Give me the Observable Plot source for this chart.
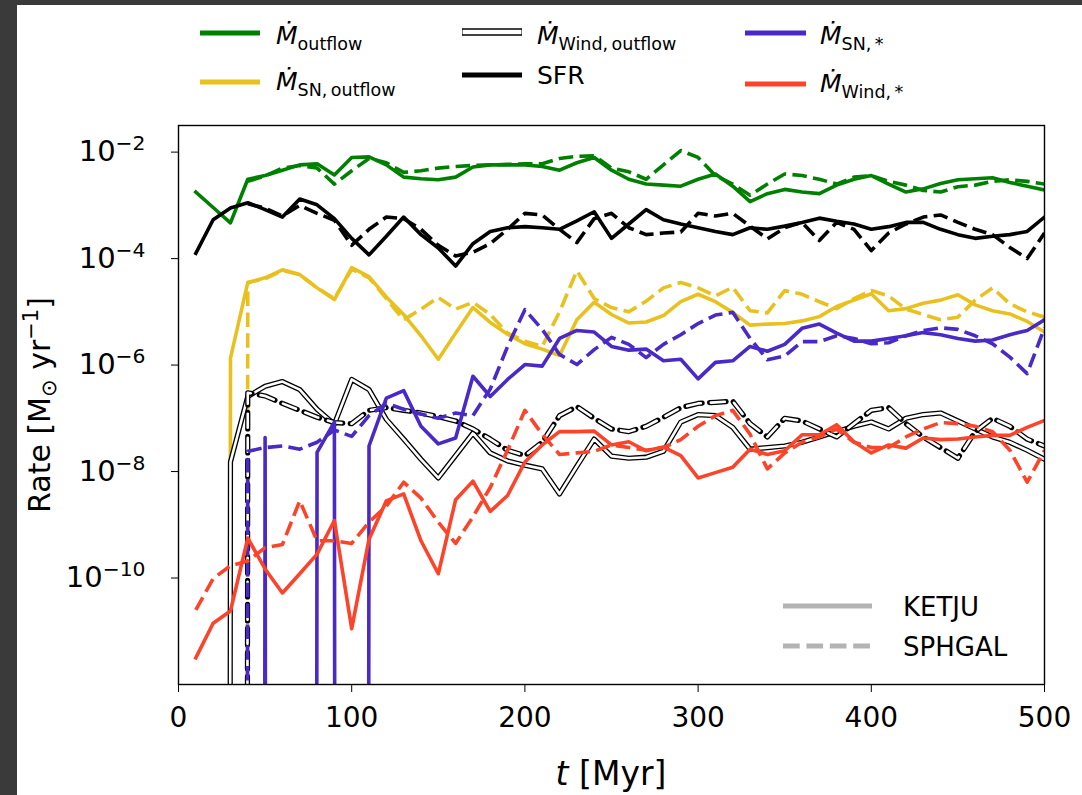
<!DOCTYPE html>
<html><head><meta charset="utf-8">
<script src="https://cdn.jsdelivr.net/npm/d3@7"></script>
<script src="https://cdn.jsdelivr.net/npm/@observablehq/plot@0.6"></script>
<style>
html,body{margin:0;padding:0;background:#3a3a3a;width:1082px;height:795px;overflow:hidden;font-family:"DejaVu Sans",sans-serif;}
#panel{position:absolute;left:17px;top:5px;width:1065px;height:790px;background:#fff;}
#chart{position:absolute;left:0;top:0;}
#overlay{position:absolute;left:0;top:0;}
</style></head><body>
<div id="panel"></div>
<div id="chart"></div>
<svg id="overlay" width="1082" height="795"></svg>
<script>
// time axis (Myr)
const times = [10,20,30,40,50,60,70,80,90,100,110,120,130,140,150,160,170,180,190,200,210,220,230,240,250,260,270,280,290,300,310,320,330,340,350,360,370,380,390,400,410,420,430,440,450,460,470,480,490,500];
const Z = -Infinity; // log10 of a zero rate
const N = null;      // no data
// log10 of rates [Msun/yr]
const outflowKetjuLog = [-2.75,-3.04,-3.33,-2.51,-2.44,-2.34,-2.24,-2.22,-2.43,-2.10,-2.09,-2.24,-2.47,-2.50,-2.52,-2.47,-2.28,-2.24,-2.24,-2.24,-2.27,-2.34,-2.20,-2.10,-2.34,-2.51,-2.60,-2.62,-2.64,-2.51,-2.41,-2.64,-2.93,-2.78,-2.70,-2.75,-2.78,-2.62,-2.51,-2.44,-2.60,-2.75,-2.69,-2.59,-2.52,-2.50,-2.48,-2.57,-2.64,-2.71];
const outflowSphgalLog = [N,N,N,-2.55,-2.45,-2.30,-2.25,-2.30,-2.60,-2.35,-2.12,-2.20,-2.38,-2.35,-2.30,-2.27,-2.25,-2.24,-2.23,-2.22,-2.22,-2.12,-2.08,-2.07,-2.30,-2.37,-2.51,-2.24,-1.97,-2.10,-2.44,-2.60,-2.81,-2.60,-2.41,-2.44,-2.51,-2.60,-2.47,-2.44,-2.55,-2.62,-2.72,-2.75,-2.65,-2.62,-2.55,-2.52,-2.55,-2.60];
const sfrKetjuLog = [-3.90,-3.27,-3.05,-2.95,-3.08,-3.22,-2.88,-2.99,-3.25,-3.62,-3.93,-3.58,-3.22,-3.55,-3.80,-4.14,-3.72,-3.49,-3.42,-3.40,-3.42,-3.45,-3.29,-3.12,-3.62,-3.35,-3.08,-3.27,-3.35,-3.42,-3.49,-3.55,-3.42,-3.45,-3.39,-3.32,-3.24,-3.30,-3.35,-3.45,-3.40,-3.32,-3.32,-3.45,-3.55,-3.62,-3.58,-3.55,-3.49,-3.22];
const sfrSphgalLog = [N,N,N,-2.97,-3.05,-3.20,-3.00,-3.15,-3.28,-3.75,-3.45,-3.22,-3.25,-3.45,-3.75,-3.95,-3.88,-3.72,-3.45,-3.15,-3.18,-3.45,-3.70,-3.25,-3.15,-3.42,-3.55,-3.52,-3.50,-3.15,-3.20,-3.15,-3.39,-3.63,-3.42,-3.32,-3.66,-3.32,-3.45,-3.85,-3.52,-3.35,-3.22,-3.18,-3.32,-3.45,-3.55,-3.79,-4.00,-3.52];
const snOutKetjuLog = [Z,Z,-5.87,-4.45,-4.36,-4.21,-4.30,-4.55,-4.77,-4.17,-4.34,-4.72,-5.05,-5.45,-5.89,-5.40,-4.92,-5.20,-5.42,-5.60,-5.70,-5.82,-5.15,-4.82,-5.05,-5.21,-5.19,-5.07,-4.81,-4.67,-4.81,-5.01,-5.25,-5.23,-5.22,-5.17,-5.09,-4.90,-4.78,-4.66,-4.98,-4.94,-4.84,-4.78,-4.68,-4.87,-4.98,-5.04,-5.18,-5.38];
const snOutSphgalLog = [Z,Z,Z,-4.45,-4.38,-4.22,-4.30,-4.55,-4.75,-4.20,-4.36,-4.75,-5.15,-4.95,-4.73,-4.95,-4.82,-5.05,-5.40,-5.55,-5.65,-5.00,-4.23,-4.75,-4.92,-5.00,-4.80,-4.55,-4.45,-4.55,-4.70,-4.54,-4.98,-5.02,-4.60,-4.67,-4.81,-4.94,-4.75,-4.60,-4.70,-4.95,-5.05,-5.15,-5.10,-4.78,-4.55,-4.85,-5.00,-5.10];
const windOutKetjuLog = [Z,Z,-7.82,-6.59,-6.40,-6.31,-6.46,-6.83,-7.11,-6.27,-6.46,-7.02,-7.39,-7.77,-8.12,-7.70,-7.28,-7.65,-7.80,-7.88,-7.95,-8.42,-7.90,-7.39,-7.71,-7.75,-7.73,-7.62,-7.07,-6.93,-6.95,-7.17,-7.58,-7.55,-7.52,-7.45,-7.35,-7.25,-7.15,-7.07,-7.20,-7.00,-6.93,-6.90,-7.05,-7.20,-7.35,-7.45,-7.60,-7.77];
const windOutSphgalLog = [Z,Z,Z,-6.52,-6.58,-6.72,-6.85,-6.98,-7.08,-7.10,-6.85,-6.80,-6.85,-6.90,-6.97,-7.05,-7.20,-7.39,-7.60,-7.70,-7.45,-6.95,-6.78,-7.00,-7.20,-7.25,-7.15,-6.98,-6.80,-6.72,-6.70,-6.68,-7.10,-7.35,-7.00,-7.05,-7.20,-7.35,-7.10,-6.85,-6.80,-7.10,-7.35,-7.55,-7.75,-7.25,-7.00,-7.15,-7.39,-7.52];
const snStarKetjuLog = [Z,Z,Z,Z,-7.36,Z,Z,-7.64,-7.07,Z,-7.52,-6.62,-6.48,-7.15,-7.48,-7.37,-6.21,-6.59,-6.27,-5.99,-6.02,-5.50,-5.35,-5.38,-5.65,-5.72,-5.70,-5.92,-5.89,-6.26,-5.95,-5.92,-5.65,-5.74,-5.61,-5.31,-5.23,-5.40,-5.55,-5.55,-5.50,-5.45,-5.39,-5.43,-5.50,-5.55,-5.53,-5.43,-5.35,-5.15];
const snStarSphgalLog = [Z,Z,Z,-7.62,-7.55,-7.52,-7.58,-7.45,-7.22,-7.34,-6.95,-6.72,-6.83,-6.92,-7.00,-6.90,-6.95,-6.45,-5.65,-4.96,-5.33,-5.80,-5.99,-5.71,-5.48,-5.61,-5.86,-5.61,-5.43,-5.22,-5.06,-5.01,-5.50,-5.90,-5.83,-5.56,-5.56,-5.45,-5.50,-5.60,-5.58,-5.45,-5.35,-5.30,-5.33,-5.45,-5.60,-5.85,-6.16,-5.30];
const windStarKetjuLog = [-11.50,-10.85,-10.62,-9.25,-9.83,-10.28,-9.92,-9.55,-8.92,-10.95,-9.27,-8.55,-8.42,-9.30,-9.92,-8.53,-8.18,-8.75,-8.45,-7.82,-7.50,-7.25,-7.25,-7.24,-7.50,-7.44,-7.61,-7.54,-7.70,-8.12,-8.02,-7.92,-7.58,-7.68,-7.61,-7.31,-7.31,-7.12,-7.44,-7.65,-7.50,-7.56,-7.37,-7.40,-7.39,-7.35,-7.32,-7.32,-7.17,-7.04];
const windStarSphgalLog = [-10.60,-10.01,-9.77,-9.68,-9.43,-9.37,-8.55,-9.30,-9.30,-9.35,-8.95,-8.65,-8.20,-8.50,-8.95,-9.35,-8.85,-8.30,-7.60,-6.85,-7.30,-7.68,-7.65,-7.62,-7.50,-7.55,-7.60,-7.55,-7.40,-7.15,-6.95,-6.85,-7.30,-7.95,-7.65,-7.45,-7.35,-7.20,-7.45,-7.55,-7.55,-7.35,-7.20,-7.08,-7.10,-7.15,-7.25,-7.60,-8.20,-7.60];

const xTicks = [0,100,200,300,400,500];
const yTicks = [1e-2,1e-4,1e-6,1e-8,1e-10];

const GREEN="#008000", YELLOW="#e8c11f", PURPLE="#4a2ac6", RED="#fb4429";

function rows(logs){
  const out=[];
  times.forEach((t,i)=>{ const v=logs[i]; if(v===null) return; const rate=Math.pow(10,v); out.push({t, rate, y: rate>0?rate:1e-300}); });
  return out;
}
const LW=3.6, DASH="14.5,6.3";
function ln(logs,color,dashed){
  return Plot.line(rows(logs),{x:"t",y:"y",stroke:color,strokeWidth:LW,strokeDasharray:dashed?DASH:null,strokeLinejoin:"round",strokeLinecap:dashed?"butt":"square",clip:true});
}
function wind(logs,dashed){
  const r=rows(logs);
  return [
    Plot.line(r,{x:"t",y:"y",stroke:"#000",strokeWidth:5.2,strokeDasharray:dashed?"16.6,7.4":null,strokeDashoffset:dashed?1.3:null,strokeLinejoin:"round",clip:true}),
    Plot.line(r,{x:"t",y:"y",stroke:"#fff",strokeWidth:2.6,strokeDasharray:dashed?"14,10":null,strokeLinejoin:"round",clip:true})
  ];
}

const chart = Plot.plot({
  width:1082, height:795,
  marginLeft:178, marginRight:38, marginTop:125, marginBottom:111,
  style:{fontFamily:"DejaVu Sans",fontSize:"28px",color:"#000",background:"transparent"},
  x:{domain:[0,500]},
  y:{type:"log",domain:[1e-12,Math.pow(10,-1.5)]},
  marks:[
    ln(outflowKetjuLog,GREEN,false), ln(outflowSphgalLog,GREEN,true),
    ln(snOutKetjuLog,YELLOW,false), ln(snOutSphgalLog,YELLOW,true),
    ...wind(windOutKetjuLog,false), ...wind(windOutSphgalLog,true),
    ln(sfrKetjuLog,"#000",false), ln(sfrSphgalLog,"#000",true),
    ln(snStarKetjuLog,PURPLE,false), ln(snStarSphgalLog,PURPLE,true),
    ln(windStarKetjuLog,RED,false), ln(windStarSphgalLog,RED,true),
    Plot.frame({stroke:"#000",strokeWidth:1.4}),
    Plot.axisX({ticks:xTicks,tickSize:8,tickPadding:15,tickFormat:d=>String(d),label:null,fontSize:28}),
    Plot.axisY({ticks:yTicks,tickSize:7,tickPadding:26,tickFormat:d=>"10^"+Math.round(Math.log10(d)),label:null,fontSize:29})
  ]
});
document.getElementById("chart").appendChild(chart);

// superscript exponents on y tick labels
d3.select(chart).selectAll('g[aria-label="y-axis tick label"] text').each(function(){
  const s=this.textContent; const m=s.match(/^10\^(-?\d+)$/);
  if(!m) return;
  const el=d3.select(this); el.text(null);
  el.append("tspan").text("10");
  el.append("tspan").attr("dy","-0.55em").attr("font-size","0.7em").text("\u2212"+m[1].replace("-",""));
});

// overlay: legends and axis labels
const ov=d3.select("#overlay").attr("font-family","DejaVu Sans");
function legLine(x1,x2,y,color,dashed,w){
  ov.append("line").attr("x1",x1).attr("x2",x2).attr("y1",y).attr("y2",y).attr("stroke",color).attr("stroke-width",w||5).attr("stroke-dasharray",dashed||null);
}
function mdot(x,y,sub){
  const t=ov.append("text").attr("x",x).attr("y",y).attr("font-size",25);
  t.append("tspan").attr("font-style","italic").text("\u1E40");
  t.append("tspan").attr("font-size",17.5).attr("dy",6).text(sub);
}
legLine(200,260,33,GREEN); mdot(276,44,"outflow");
legLine(200,260,82,YELLOW); mdot(276,90,"SN,\u2009outflow");
legLine(462,522,32,"#000",null,7.5); legLine(462.5,521.5,32,"#fff",null,4.5); mdot(537,44,"Wind,\u2009outflow");
legLine(462,522,75,"#000"); ov.append("text").attr("x",537).attr("y",84).attr("font-size",25).text("SFR");
legLine(745,806,33,PURPLE); mdot(820,44,"SN,\u2009*");
legLine(745,806,84,RED); mdot(820,92,"Wind,\u2009*");

// run legend
legLine(783,872,606,"#b3b3b3",null,5);
legLine(783,872,646,"#b3b3b3","16.7,6.7",5);
ov.append("text").attr("x",903).attr("y",616).attr("font-size",26).text("KETJU");
ov.append("text").attr("x",903).attr("y",656).attr("font-size",26).text("SPHGAL");

// axis labels
const yl=ov.append("text").attr("transform","translate(50,405) rotate(-90)").attr("text-anchor","middle").attr("font-size",30);
yl.append("tspan").text("Rate [M");
yl.append("tspan").attr("font-size",21).attr("dy",6).text("\u2299");
yl.append("tspan").attr("dy",-6).text(" yr");
yl.append("tspan").attr("font-size",21).attr("dy",-12).text("\u22121");
yl.append("tspan").attr("dy",12).text("]");
const xl=ov.append("text").attr("x",611).attr("y",785).attr("text-anchor","middle").attr("font-size",33);
xl.append("tspan").attr("font-style","italic").text("t");
xl.append("tspan").text(" [Myr]");
</script>
</body></html>
